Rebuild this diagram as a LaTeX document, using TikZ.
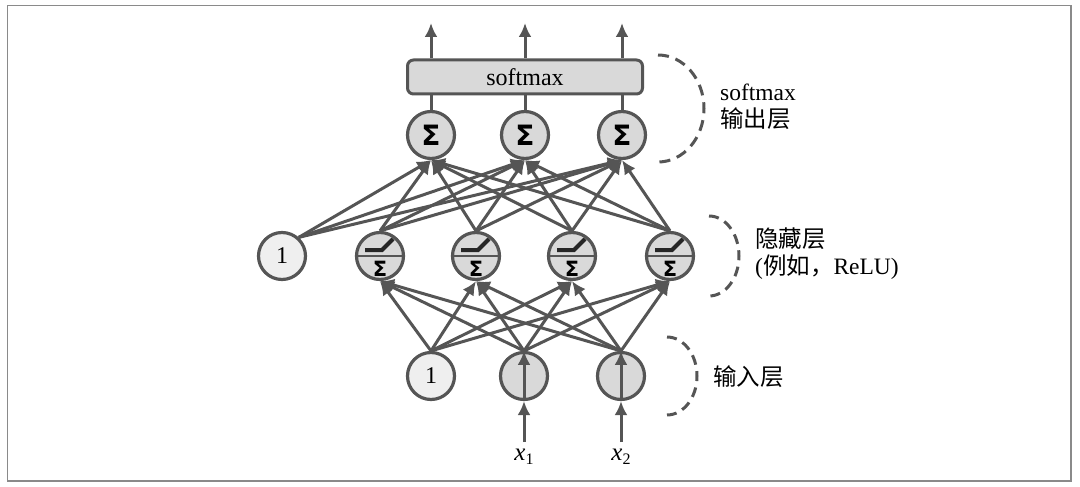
\documentclass[tikz,border=0pt]{standalone}
\usepackage{fontspec}
\setmainfont{Liberation Serif}
\newfontfamily\cjk{Noto Sans CJK SC}
\newfontfamily\symf{DejaVu Sans}
\usetikzlibrary{arrows.meta}
\definecolor{ln}{HTML}{555555}
\definecolor{nfill}{HTML}{D9D9D9}
\definecolor{bfill}{HTML}{EFEFEF}
\definecolor{frame}{HTML}{8A8A8A}
\begin{document}
\begin{tikzpicture}[x=1pt,y=-1pt,
  neuron/.style={circle,draw=ln,line width=3.2pt,minimum size=47pt,inner sep=0pt,fill=nfill},
  biasn/.style={neuron,fill=bfill,font=\fontsize{24}{24}\selectfont},
  arr/.style={draw=ln,line width=3pt,-{Latex[length=14pt,width=13pt]}},
  plain/.style={draw=ln,line width=3pt},
  brace/.style={draw=ln,line width=3pt,dash pattern=on 11pt off 7pt},
  relu/.style={draw=black!85,line width=4pt},
  sig/.style={inner sep=0pt,font=\symf\bfseries\fontsize{21}{21}\selectfont},
  bigsig/.style={inner sep=0pt,font=\symf\bfseries\fontsize{28}{28}\selectfont},
  lab/.style={anchor=west,align=left,inner sep=0pt,font=\fontsize{23.5}{27}\selectfont}]
\useasboundingbox (0,0) rectangle (1080,487);
\draw[frame,line width=1.5pt] (7.5,5.5) rectangle (1071,481);

% input layer
\node[biasn] (i0) at (431,376) {1};
\node[neuron] (i1) at (524,376) {};
\node[neuron] (i2) at (621,376) {};
\node[inner sep=0pt,font=\fontsize{25}{25}\selectfont] (x1) at (524,457) {\itshape x\raisebox{-4pt}{\upshape\fontsize{16}{16}\selectfont 1}};
\node[inner sep=0pt,font=\fontsize{25}{25}\selectfont] (x2) at (621,457) {\itshape x\raisebox{-4pt}{\upshape\fontsize{16}{16}\selectfont 2}};
\coordinate (x1s) at (524,442);
\coordinate (x2s) at (621,442);
\draw[arr] (x1s) -- (i1.south);
\draw[arr] (x2s) -- (i2.south);
\draw[arr] (i1.south) -- (i1.north);
\draw[arr] (i2.south) -- (i2.north);

% hidden layer
\node[biasn] (b) at (282,256) {1};
\foreach \n/\x in {1/380,2/476,3/572,4/670}{
  \node[neuron] (h\n) at (\x,256) {};
  \draw[plain,line width=2.2pt] (h\n.west) -- (h\n.east);
  \draw[relu] ([shift={(-15,-6)}]h\n.center) -- ++(17,0) -- ++(11,-11);
  \node[sig] (hs\n) at ([shift={(0,12.5)}]h\n.center) {Σ};
}

% output layer
\foreach \n/\x in {1/431,2/525,3/622}{
  \node[neuron] (o\n) at (\x,135) {};
  \node[bigsig] (os\n) at (o\n.center) {Σ};
}
\node[draw=ln,line width=3pt,fill=nfill,rounded corners=6pt,minimum width=235pt,minimum height=34pt,inner sep=0pt,font=\fontsize{24}{24}\selectfont] (sm) at (525,77) {softmax};
\foreach \n/\x in {1/431,2/525,3/622}{
  \draw[plain] (o\n.north) -- (o\n.north |- sm.south);
  \coordinate (t\n) at (\x,23);
  \draw[arr] (o\n.north |- sm.north) -- (t\n);
}

% connections
\foreach \i in {0,1,2}{
  \foreach \j in {1,2,3,4}{
    \draw[arr] (i\i.north) -- (h\j.south);
  }
}
\foreach \j in {1,2,3,4}{
  \foreach \k in {1,2,3}{
    \draw[arr] (h\j.north) -- (o\k.south);
  }
}
\foreach \k in {1,2,3}{
  \draw[arr] (b.48) -- (o\k.south);
}

% braces
\draw[brace] (658,55) arc[start angle=-90,end angle=90,x radius=46,y radius=53.5];
\draw[brace,dash pattern=on 10pt off 6.5pt] (709,216) arc[start angle=-90,end angle=90,x radius=30,y radius=40];
\draw[brace,dash pattern=on 10pt off 6.5pt] (667,337) arc[start angle=-90,end angle=90,x radius=30,y radius=39];

% labels
\node[lab] (l1) at (720,107) {softmax\\{\cjk 输出层}};
\node[lab] (l2) at (755,254) {{\cjk 隐藏层}\\({\cjk 例如，}ReLU)};
\node[lab] (l3) at (713,377) {{\cjk 输入层}};
\end{tikzpicture}
\end{document}
